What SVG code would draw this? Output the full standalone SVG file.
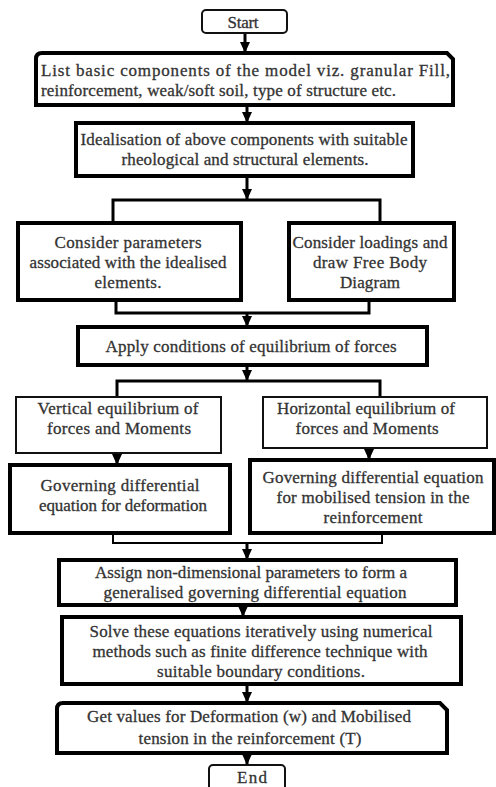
<svg xmlns="http://www.w3.org/2000/svg" width="496" height="787" viewBox="0 0 496 787">
<style>
.t{font-family:"Liberation Serif","Times New Roman",serif;font-size:17px;fill:#333;stroke:#333;stroke-width:0.3;text-anchor:middle}
.b{fill:#fff;stroke:#000;stroke-width:4}
.thin{fill:#fff;stroke:#111;stroke-width:2}
.c{fill:none;stroke:#000;stroke-width:3}
.a{fill:none;stroke:#000;stroke-width:3;marker-end:url(#ah)}
</style>
<defs>
<marker id="ah" markerUnits="userSpaceOnUse" markerWidth="12" markerHeight="10" refX="11" refY="5" orient="auto">
<path d="M0,0 L11,5 L0,10 Z" fill="#000"/>
</marker>
</defs>
<rect width="496" height="787" fill="#fff"/>
<g id="connectors">
<path class="a" d="M245,33 V53"/>
<path class="a" d="M247,105 V123"/>
<path class="a" d="M247,176 V200"/>
<path class="c" d="M113,221 V200 H380 V221"/>
<path class="c" d="M116,300 V313 H369 V300"/>
<path class="a" d="M247,313 V327"/>
<path class="a" d="M247,365 V381"/>
<path class="c" d="M117,397 V381 H380 V397"/>
<path class="a" d="M117,453 V465"/>
<path class="a" d="M369,448 V460"/>
<path class="c" d="M113,533 V543 H382 V533" style="stroke-width:2"/>
<path class="a" d="M247,543 V560"/>
<path class="a" d="M243,605 V617"/>
<path class="a" d="M247,684 V703"/>
<path class="a" d="M247,753 V765"/>
</g>
<g id="start">
<rect class="thin" x="202" y="10" width="85" height="23" rx="4"/>
<text class="t" x="243" y="28" textLength="31" lengthAdjust="spacing">Start</text>
</g>
<g id="list">
<path class="b" d="M42,53 H447 L453,59 V105 H36 V59 Q36,53 42,53 Z"/>
<text class="t" x="41" y="76" style="text-anchor:start" textLength="409" lengthAdjust="spacing">List basic components of the model viz. granular Fill,</text>
<text class="t" x="41" y="96" style="text-anchor:start" textLength="355" lengthAdjust="spacing">reinforcement, weak/soft soil, type of structure etc.</text>
</g>
<g id="idealisation">
<rect class="b" x="76" y="123" width="337" height="53"/>
<text class="t" x="244" y="145" textLength="327" lengthAdjust="spacing">Idealisation of above components with suitable</text>
<text class="t" x="245" y="165" textLength="247" lengthAdjust="spacing">rheological and structural elements.</text>
</g>
<g id="parameters">
<rect class="b" x="18" y="223" width="223" height="77"/>
<text class="t" x="128" y="248" textLength="147" lengthAdjust="spacing">Consider parameters</text>
<text class="t" x="128" y="268" textLength="197" lengthAdjust="spacing">associated with the idealised</text>
<text class="t" x="128" y="288" textLength="67" lengthAdjust="spacing">elements.</text>
</g>
<g id="loadings">
<rect class="b" x="289" y="223" width="165" height="77"/>
<text class="t" x="370" y="248" textLength="155" lengthAdjust="spacing">Consider loadings and</text>
<text class="t" x="370" y="268" textLength="114" lengthAdjust="spacing">draw Free Body</text>
<text class="t" x="370" y="288" textLength="60" lengthAdjust="spacing">Diagram</text>
</g>
<g id="apply">
<rect class="b" x="78" y="327" width="349" height="38"/>
<text class="t" x="251" y="352" textLength="291" lengthAdjust="spacing">Apply conditions of equilibrium of forces</text>
</g>
<g id="vertical">
<rect class="thin" x="16" y="397" width="205" height="56"/>
<text class="t" x="118" y="414" textLength="161" lengthAdjust="spacing">Vertical equilibrium of</text>
<text class="t" x="119" y="434" textLength="144" lengthAdjust="spacing">forces and Moments</text>
</g>
<g id="horizontal">
<rect class="thin" x="263" y="397" width="224" height="51"/>
<text class="t" x="366" y="414" textLength="178" lengthAdjust="spacing">Horizontal equilibrium of</text>
<text class="t" x="367" y="434" textLength="143" lengthAdjust="spacing">forces and Moments</text>
</g>
<g id="gde-deformation">
<rect class="b" x="10" y="465" width="220" height="68"/>
<text class="t" x="120" y="491" textLength="159" lengthAdjust="spacing">Governing differential</text>
<text class="t" x="123" y="511" textLength="168" lengthAdjust="spacing">equation for deformation</text>
</g>
<g id="gde-tension">
<rect class="b" x="250" y="460" width="244" height="73"/>
<text class="t" x="373" y="483" textLength="221" lengthAdjust="spacing">Governing differential equation</text>
<text class="t" x="373" y="503" textLength="193" lengthAdjust="spacing">for mobilised tension in the</text>
<text class="t" x="373" y="523" textLength="99" lengthAdjust="spacing">reinforcement</text>
</g>
<g id="assign">
<rect class="b" x="59" y="560" width="397" height="45"/>
<text class="t" x="251" y="578" textLength="312" lengthAdjust="spacing">Assign non-dimensional parameters to form a</text>
<text class="t" x="255" y="598" textLength="303" lengthAdjust="spacing">generalised governing differential equation</text>
</g>
<g id="solve">
<rect class="b" x="62" y="617" width="399" height="67"/>
<text class="t" x="261" y="637" textLength="343" lengthAdjust="spacing">Solve these equations iteratively using numerical</text>
<text class="t" x="260" y="657" textLength="335" lengthAdjust="spacing">methods such as finite difference technique with</text>
<text class="t" x="261" y="677" textLength="208" lengthAdjust="spacing">suitable boundary conditions.</text>
</g>
<g id="values">
<path class="b" d="M63,703 H440 L447,710 V753 H57 V709 Q57,703 63,703 Z"/>
<text class="t" x="249" y="722" textLength="324" lengthAdjust="spacing">Get values for Deformation (w) and Mobilised</text>
<text class="t" x="250" y="744" textLength="223" lengthAdjust="spacing">tension in the reinforcement (T)</text>
</g>
<g id="end">
<rect class="thin" x="209" y="765" width="76" height="30" rx="4"/>
<text class="t" x="252" y="783" textLength="30" lengthAdjust="spacing">End</text>
</g>
</svg>
